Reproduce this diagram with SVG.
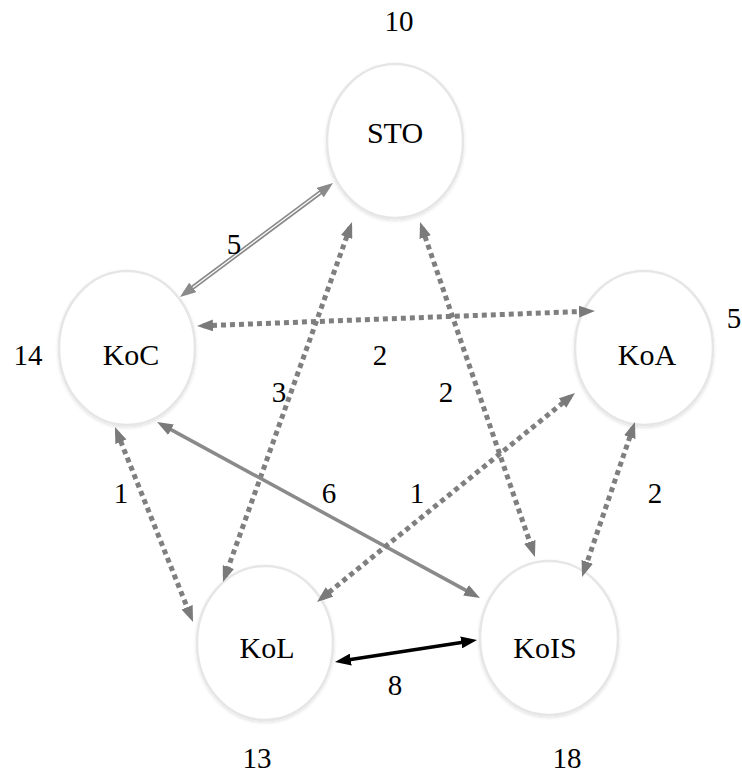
<svg xmlns="http://www.w3.org/2000/svg" width="742" height="774" viewBox="0 0 742 774">
  <style>
    .node { fill: #ffffff; stroke: #e6e6e6; stroke-width: 2.5; filter: url(#shadow); }
    .lbl { font-family: "Liberation Serif", "Times New Roman", serif; font-size: 30px; fill: #000; text-anchor: middle; }
    .num { font-family: "Liberation Serif", "Times New Roman", serif; font-size: 29px; fill: #000; text-anchor: middle; }
    .dot { fill: none; stroke: #7f7f7f; stroke-width: 5; stroke-dasharray: 5 4; marker-start: url(#ag); marker-end: url(#ag); }
    .solid { fill: none; stroke: #8a8a8a; stroke-width: 3.5; marker-start: url(#ag); marker-end: url(#ag); }
    .dbl { fill: none; stroke: #8a8a8a; stroke-width: 4.5; marker-start: url(#ag2); marker-end: url(#ag2); }
    .dblin { fill: none; stroke: #ffffff; stroke-width: 1.2; }
    .blk { fill: none; stroke: #000000; stroke-width: 3.5; marker-start: url(#ab); marker-end: url(#ab); }
  </style>
  <defs>
    <filter id="shadow" x="-20%" y="-20%" width="140%" height="140%">
      <feDropShadow dx="0" dy="1.5" stdDeviation="1.5" flood-color="#000" flood-opacity="0.12"/>
    </filter>
    <marker id="ag" markerUnits="userSpaceOnUse" markerWidth="16" markerHeight="12" refX="10" refY="6" orient="auto-start-reverse">
      <path d="M0,0 L16,6 L0,12 Z" fill="#7a7a7a"/>
    </marker>
    <marker id="ag2" markerUnits="userSpaceOnUse" markerWidth="16" markerHeight="12" refX="10" refY="6" orient="auto-start-reverse">
      <path d="M0,0 L16,6 L0,12 Z" fill="#8a8a8a"/>
    </marker>
    <marker id="ab" markerUnits="userSpaceOnUse" markerWidth="16" markerHeight="12" refX="10" refY="6" orient="auto-start-reverse">
      <path d="M0,0 L16,6 L0,12 Z" fill="#000000"/>
    </marker>
  </defs>
  <rect width="742" height="774" fill="#ffffff"/>

  <g id="nodes">
    <g id="node-STO">
      <ellipse class="node" cx="395" cy="141" rx="68" ry="77"/>
      <text class="lbl" x="395" y="143">STO</text>
      <text class="num" x="399" y="31">10</text>
    </g>
    <g id="node-KoC">
      <ellipse class="node" cx="127" cy="348" rx="68" ry="77"/>
      <text class="lbl" x="131" y="365">KoC</text>
      <text class="num" x="28" y="365">14</text>
    </g>
    <g id="node-KoA">
      <ellipse class="node" cx="644" cy="348" rx="69" ry="77"/>
      <text class="lbl" x="647" y="365">KoA</text>
      <text class="num" x="734" y="328">5</text>
    </g>
    <g id="node-KoL">
      <ellipse class="node" cx="265" cy="643" rx="68" ry="77"/>
      <text class="lbl" x="267" y="658">KoL</text>
      <text class="num" x="257" y="768">13</text>
    </g>
    <g id="node-KoIS">
      <ellipse class="node" cx="549" cy="638" rx="69" ry="77"/>
      <text class="lbl" x="545" y="658">KoIS</text>
      <text class="num" x="567" y="768">18</text>
    </g>
  </g>

  <g id="connectors">
    <line class="dbl" x1="184.8" y1="293.4" x2="328.2" y2="186.6"/>
    <line class="dblin" x1="192.8" y1="287.4" x2="320.2" y2="192.6"/>
    <line class="dot" x1="203" y1="325.8" x2="589" y2="311.2"/>
    <line class="dot" x1="350" y1="227.6" x2="225" y2="576.4"/>
    <line class="dot" x1="422" y1="227.7" x2="533" y2="551.3"/>
    <line class="dot" x1="117.2" y1="432.6" x2="190.8" y2="616.4"/>
    <line class="solid" x1="162.3" y1="424.9" x2="474.7" y2="595.1"/>
    <line class="dot" x1="321.7" y1="598.2" x2="570.3" y2="396.8"/>
    <line class="dot" x1="633" y1="427.7" x2="584" y2="571.3"/>
    <line class="blk" x1="340.9" y1="661.1" x2="471.1" y2="640.9"/>

    <text class="num" x="234" y="254">5</text>
    <text class="num" x="380" y="365">2</text>
    <text class="num" x="279" y="402">3</text>
    <text class="num" x="446" y="402">2</text>
    <text class="num" x="121" y="503">1</text>
    <text class="num" x="329" y="503">6</text>
    <text class="num" x="417" y="503">1</text>
    <text class="num" x="655" y="503">2</text>
    <text class="num" x="395" y="695">8</text>
  </g>
</svg>
